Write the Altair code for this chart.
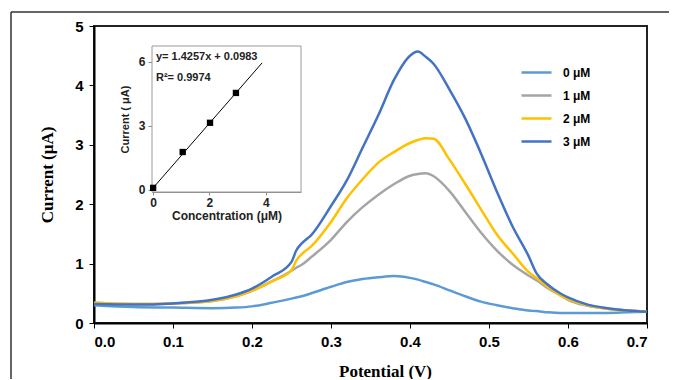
import altair as alt
import pandas as pd

# ---- main DPV curves ----
potential = [0.0, 0.05, 0.10, 0.15, 0.18, 0.20, 0.225, 0.25, 0.256, 0.263, 0.275, 0.30, 0.32, 0.34,
             0.36, 0.38, 0.40, 0.41, 0.42, 0.43, 0.45, 0.47, 0.49, 0.51, 0.53, 0.55, 0.56, 0.575,
             0.59, 0.60, 0.625, 0.65, 0.675, 0.70]
i_0uM = [0.30, 0.27, 0.26, 0.25, 0.26, 0.28, 0.34, 0.41, 0.43, 0.45, 0.50, 0.61, 0.69, 0.74,
         0.77, 0.79, 0.76, 0.73, 0.69, 0.65, 0.55, 0.45, 0.36, 0.30, 0.25, 0.21, 0.20, 0.18,
         0.17, 0.17, 0.17, 0.17, 0.18, 0.19]
i_1uM = [0.34, 0.32, 0.33, 0.37, 0.45, 0.54, 0.70, 0.88, 0.93, 0.98, 1.11, 1.40, 1.70, 1.95,
         2.16, 2.34, 2.48, 2.51, 2.52, 2.47, 2.22, 1.87, 1.52, 1.22, 0.98, 0.80, 0.72, 0.58,
         0.47, 0.39, 0.29, 0.24, 0.21, 0.19]
i_2uM = [0.34, 0.32, 0.33, 0.37, 0.45, 0.54, 0.70, 0.89, 1.05, 1.16, 1.29, 1.70, 2.10, 2.42,
         2.70, 2.88, 3.03, 3.08, 3.11, 3.10, 2.75, 2.34, 1.91, 1.49, 1.17, 0.86, 0.76, 0.60,
         0.47, 0.40, 0.30, 0.24, 0.21, 0.19]
i_3uM = [0.32, 0.31, 0.33, 0.39, 0.48, 0.58, 0.78, 1.03, 1.22, 1.34, 1.48, 1.97, 2.40, 2.95,
         3.50, 4.10, 4.50, 4.57, 4.48, 4.36, 3.93, 3.44, 2.85, 2.21, 1.62, 1.13, 0.84, 0.64,
         0.50, 0.43, 0.31, 0.25, 0.21, 0.19]
series = ["0 μM", "1 μM", "2 μM", "3 μM"]
colors = ["#5B9BD5", "#A5A5A5", "#FFC000", "#4472C4"]
x_ticks = [0.0, 0.1, 0.2, 0.3, 0.4, 0.5, 0.6, 0.7]
y_ticks = [0, 1, 2, 3, 4, 5]

# ---- inset calibration ----
conc = [0.0, 1.05, 2.02, 2.94]
peak_current = [0.10, 1.78, 3.15, 4.55]
fit_x = [0.0, 3.87]
fit_y = [0.10, 5.96]
eq_text = ["y= 1.4257x + 0.0983", "R²= 0.9974"]
inset_x_ticks = [0, 2, 4]
inset_y_ticks = [0, 3, 6]

SANS = "Liberation Sans"
SERIF = "Liberation Serif"

rows = []
for name, vals in zip(series, [i_0uM, i_1uM, i_2uM, i_3uM]):
    for p, v in zip(potential, vals):
        rows.append({"Potential": p, "Current": v, "Series": name})
df = pd.DataFrame(rows)

main = alt.Chart(df).mark_line(strokeWidth=2.5, interpolate="monotone").encode(
    x=alt.X("Potential:Q",
            scale=alt.Scale(domain=[0, 0.7], nice=False, zero=False),
            axis=alt.Axis(orient="bottom", values=x_ticks, format=".1f", title="Potential (V)",
                          labelFont=SANS, labelFontSize=15, labelFontWeight="bold", labelColor="black",
                          labelPadding=6, tickSize=5, tickColor="black", domainColor="black",
                          domainWidth=2, titleFont=SERIF, titleFontSize=17, titleFontWeight="bold",
                          titleColor="black", titlePadding=14, titleX=291)),
    y=alt.Y("Current:Q",
            scale=alt.Scale(domain=[0, 5], nice=False, zero=False),
            axis=alt.Axis(orient="left", values=y_ticks, format="d", title="Current (μA)",
                          labelFont=SANS, labelFontSize=15, labelFontWeight="bold", labelColor="black",
                          labelPadding=6, tickSize=5, tickColor="black", domainColor="black",
                          domainWidth=2, titleFont=SERIF, titleFontSize=17, titleFontWeight="bold",
                          titleColor="black", titlePadding=18)),
    color=alt.Color("Series:N", scale=alt.Scale(domain=series, range=colors),
                    legend=alt.Legend(title=None, orient="none", legendX=426, legendY=30,
                                      symbolType="stroke", symbolSize=900, symbolStrokeWidth=2.5,
                                      labelFont=SANS, labelFontSize=12, labelFontWeight="bold",
                                      labelColor="black", labelOffset=10, rowPadding=0)),
    detail="Series:N",
)

# outer figure border (decoration)
border_top = alt.Chart(pd.DataFrame({"a": [0]})).mark_rule(color="#333", strokeWidth=1.5).encode(
    x=alt.value(-83), x2=alt.value(600), y=alt.value(-14))
border_left = alt.Chart(pd.DataFrame({"a": [0]})).mark_rule(color="#333", strokeWidth=1.5).encode(
    x=alt.value(-83), y=alt.value(-14), y2=alt.value(400))

# ---- inset ----
ix_scale = alt.Scale(domain=[-0.04, 5.25], range=[58, 207], nice=False, zero=False)
iy_scale = alt.Scale(domain=[-0.094, 6.75], range=[166, 20], nice=False, zero=False)
ix_axis = alt.Axis(orient="bottom", offset=-131, values=inset_x_ticks, title="Concentration (μM)",
                   grid=False, domainColor="#8a8a8a", tickColor="#8a8a8a", tickSize=3,
                   labelFont=SANS, labelFontSize=12, labelFontWeight="bold", labelColor="#222",
                   labelPadding=2, titleFont=SANS, titleFontSize=12, titleFontWeight="bold",
                   titleColor="#222", titlePadding=2)
iy_axis = alt.Axis(orient="left", offset=-58, values=inset_y_ticks, title="Current ( μA)",
                   grid=False, domainColor="#8a8a8a", tickColor="#8a8a8a", tickSize=4,
                   labelFont=SANS, labelFontSize=12, labelFontWeight="bold", labelColor="#222",
                   labelPadding=3, titleFont=SANS, titleFontSize=11, titleFontWeight="bold",
                   titleColor="#222", titlePadding=8)

inset_df = pd.DataFrame({"c": conc, "i": peak_current})
fit_df = pd.DataFrame({"c": fit_x, "i": fit_y})

frame = alt.Chart(pd.DataFrame({"a": [0]})).mark_rect(fill="white", stroke="#9a9a9a", strokeWidth=1).encode(
    x=alt.XDatum(-0.04, scale=ix_scale, axis=ix_axis, type="quantitative"),
    x2=alt.X2Datum(5.25),
    y=alt.YDatum(-0.094, scale=iy_scale, axis=iy_axis, type="quantitative"),
    y2=alt.Y2Datum(6.75),
)
fit = alt.Chart(fit_df).mark_line(color="black", strokeWidth=1).encode(
    x=alt.X("c:Q", scale=ix_scale, axis=ix_axis),
    y=alt.Y("i:Q", scale=iy_scale, axis=iy_axis),
)
pts = alt.Chart(inset_df).mark_point(shape="square", filled=True, size=40, color="black", opacity=1).encode(
    x=alt.X("c:Q", scale=ix_scale, axis=ix_axis),
    y=alt.Y("i:Q", scale=iy_scale, axis=iy_axis),
)
eq_df = pd.DataFrame({"t": eq_text, "x": [0.1, 0.1], "y": [6.23, 5.25]})
eqs = alt.Chart(eq_df).mark_text(align="left", baseline="middle", font=SANS, fontSize=11,
                                 fontWeight="bold", color="#222").encode(
    x=alt.X("x:Q", scale=ix_scale, axis=ix_axis),
    y=alt.Y("y:Q", scale=iy_scale, axis=iy_axis),
    text="t:N",
)
inset = alt.layer(frame, fit, pts, eqs)

chart = alt.layer(main, inset, border_top, border_left).resolve_scale(
    x="independent", y="independent"
).properties(
    width=553, height=297,
    autosize=alt.AutoSizeParams(type="none"),
    padding={"left": 86, "top": 18, "right": 22, "bottom": 56},
).configure_view(stroke="#222", strokeWidth=2).configure_axis(grid=False)

chart.save("out.html", embed_options={"renderer": "svg", "actions": False})
